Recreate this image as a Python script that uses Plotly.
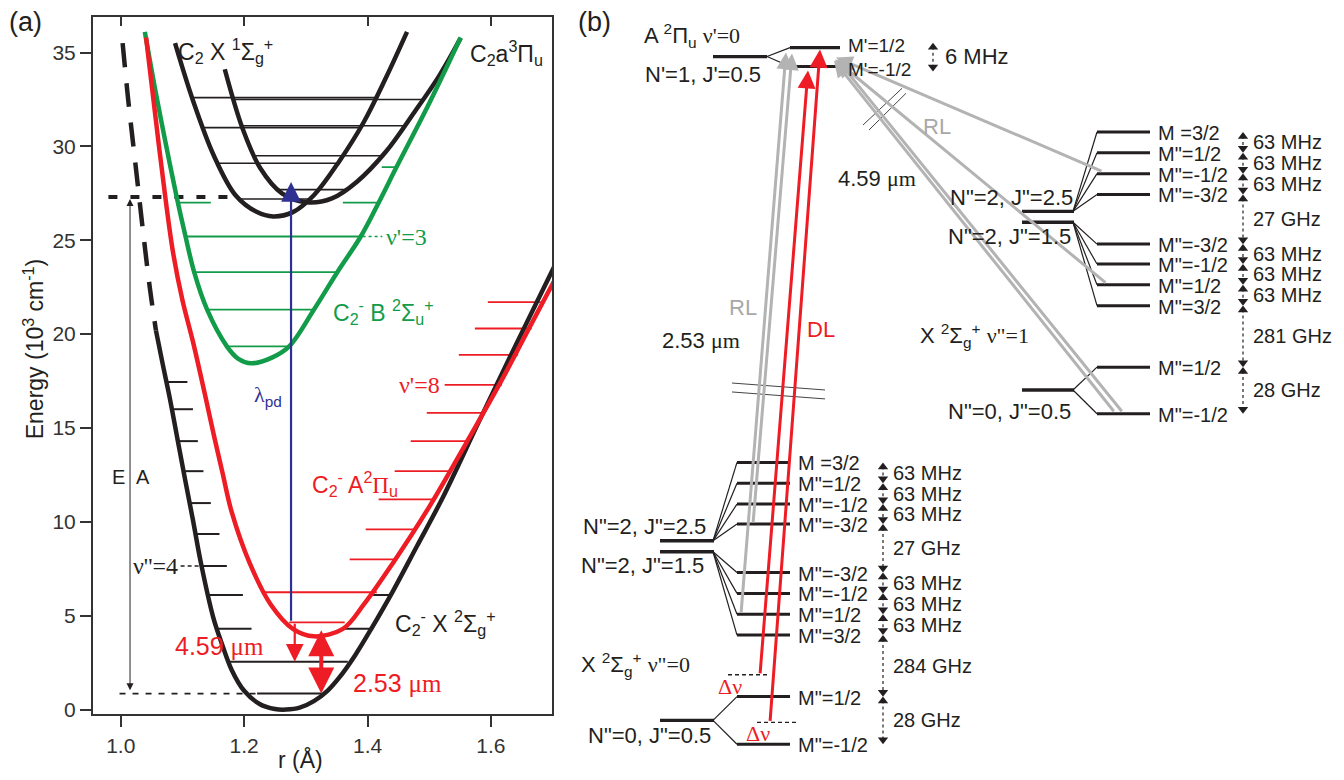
import plotly.graph_objects as go

W, H = 1344, 780
SANS = "Liberation Sans, Arial, Helvetica, sans-serif"
SERIF = "Liberation Serif, Times New Roman, serif"
INK = "#231f20"
AXC = "#333333"
RED = "#ee1c24"
GREEN = "#129c4a"
BLUE = "#2e3192"
GRAY = "#b3b3b3"
LGRAY = "#a8a8a8"
FB = 22   # panel (b) font size
FS = 20   # stacked labels in panel (b)

# ======================= Panel (a) data =======================
x_tick_vals = [1.0, 1.2, 1.4, 1.6]
x_tick_text = ["1.0", "1.2", "1.4", "1.6"]
y_tick_vals = [0, 5, 10, 15, 20, 25, 30, 35]
y_tick_text = ["0", "5", "10", "15", "20", "25", "30", "35"]

# C2- X 2Sigma_g+ (solid part and dashed inner-wall continuation)
anX_r = [1.057, 1.068, 1.080, 1.092, 1.104, 1.117, 1.130, 1.150, 1.165, 1.180, 1.200, 1.225, 1.250,
         1.268, 1.290, 1.313, 1.335, 1.354, 1.380, 1.406, 1.441, 1.480, 1.522, 1.580, 1.640, 1.710]
anX_E = [20.2, 18.4, 16.5, 14.4, 12.3, 10.1, 7.8, 4.9, 3.4, 2.1, 1.0, 0.3, 0.03,
         0.0, 0.1, 0.45, 1.0, 1.7, 2.9, 4.3, 6.3, 8.7, 11.3, 15.3, 19.4, 24.1]
anX_dash_r = [1.003, 1.012, 1.024, 1.036, 1.047, 1.057]
anX_dash_E = [35.5, 32.5, 29.0, 25.5, 22.5, 20.2]

# C2- A 2Pi_u
anA_r = [1.041, 1.062, 1.084, 1.100, 1.117, 1.135, 1.151, 1.165, 1.180, 1.209, 1.243, 1.279, 1.313,
         1.360, 1.394, 1.441, 1.500, 1.560, 1.615, 1.660, 1.710]
anA_E = [35.8, 30.0, 24.5, 21.8, 19.6, 17.0, 14.6, 12.6, 10.5, 7.8, 5.6, 4.3, 3.9,
         4.3, 5.6, 7.8, 10.8, 14.2, 17.4, 20.2, 23.3]

# C2- B 2Sigma_u+
anB_r = [1.039, 1.056, 1.072, 1.090, 1.105, 1.119, 1.140, 1.172, 1.190, 1.212, 1.245, 1.273, 1.313,
         1.351, 1.389, 1.418, 1.447, 1.500, 1.551]
anB_E = [36.1, 33.0, 30.3, 27.4, 25.2, 23.3, 21.3, 19.35, 18.7, 18.45, 18.75, 19.35, 21.3,
         23.3, 25.2, 27.0, 28.9, 32.3, 35.8]

# C2 X 1Sigma_g+ and C2 a 3Pi_u
nX_r = [1.088, 1.1165, 1.151, 1.186, 1.221, 1.247, 1.279, 1.313, 1.354, 1.394, 1.429, 1.464]
nX_E = [35.5, 32.5, 29.5, 27.4, 26.5, 26.27, 26.5, 27.4, 29.2, 31.3, 33.6, 36.1]
na_r = [1.1686, 1.1976, 1.2265, 1.2612, 1.3018, 1.3423, 1.3829, 1.4293, 1.4756, 1.5161, 1.5509]
na_E = [34.11, 30.94, 28.82, 27.50, 27.02, 27.23, 28.12, 29.70, 31.81, 33.76, 35.77]

# vibrational levels (energy, left r, right r)
nX_lev_E = [27.2, 29.1, 31.0, 32.6]
nX_lev_r0 = [1.192, 1.158, 1.134, 1.117]
nX_lev_r1 = [1.309, 1.352, 1.390, 1.412]
na_lev_E = [27.7, 29.5, 31.1, 32.5]
na_lev_r0 = [1.256, 1.217, 1.196, 1.183]
na_lev_r1 = [1.364, 1.424, 1.460, 1.491]
anB_lev_E = [19.35, 21.3, 23.3, 25.2, 27.0, 27.0, 28.9]
anB_lev_r0 = [1.172, 1.140, 1.119, 1.105, 1.093, 1.360, 1.423]
anB_lev_r1 = [1.273, 1.313, 1.351, 1.389, 1.146, 1.418, 1.447]
anX_lev_E = [0.85, 2.55, 4.3, 4.3, 6.1, 6.1, 7.65, 9.35, 11.0, 12.7, 14.3, 16.0, 17.45]
anX_lev_r0 = [1.221, 1.177, 1.155, 1.360, 1.142, 1.409, 1.133, 1.121, 1.110, 1.102, 1.093, 1.083, 1.075]
anX_lev_r1 = [1.325, 1.368, 1.212, 1.409, 1.198, 1.439, 1.172, 1.160, 1.146, 1.134, 1.125, 1.117, 1.108]
anA_lev_E = [4.65, 6.25, 8.0, 9.6, 11.2, 12.7, 14.3, 15.8, 17.3, 18.9, 20.3, 21.7]
anA_lev_r0 = [1.273, 1.229, 1.371, 1.397, 1.418, 1.444, 1.470, 1.496, 1.525, 1.548, 1.574, 1.595]
anA_lev_r1 = [1.363, 1.415, 1.446, 1.478, 1.511, 1.533, 1.563, 1.589, 1.618, 1.644, 1.666, 1.681]

# EA reference lines and arrows
ea_top_E, ea_top_r = 27.3, [0.980, 1.175]
ea_bot_E, ea_bot_r = 0.85, [0.998, 1.221]
ea_arrow_r = 1.015
pd_arrow_r, pd_arrow_E = 1.276, [4.65, 28.1]
ir459_r, ir459_E = 1.282, [4.65, 2.55]
ir253_r, ir253_E = 1.325, [4.3, 0.85]

# ======================= Panel (b) data (diagram units = page pixels) =======================
A_N1 = dict(x=[713, 767], y=57)
A_M_y = [48, 67]
A_M_x = [790, 840]
A_M_txt = ["M'=1/2", "M'=-1/2"]
A_M_txt_y = [46, 70]

# upper (v''=1) manifold
v1_J_y = [213, 224]
v1_J_x = [1022, 1073]
v1_M_y = [133, 154, 175, 196, 246, 266, 287, 308]
v1_N0_y = 393
v1_N0M_y = [370, 417]
v1_M_x = [1097, 1150]
# lower (v''=0) manifold
v0_J_y = [545, 556]
v0_J_x = [660, 713]
v0_M_y = [466, 487, 508, 528, 577, 598, 619, 640]
v0_N0_y = 726
v0_N0M_y = [702, 750]
v0_M_x = [737, 790]

M_txt = ["M =3/2", 'M"=1/2', 'M"=-1/2', 'M"=-3/2', 'M"=-3/2', 'M"=-1/2', 'M"=1/2', 'M"=3/2']
N0_M_txt = ['M"=1/2', 'M"=-1/2']

gap_txt = ["63 MHz"] * 3 + ["27 GHz"] + ["63 MHz"] * 3
v1_gap_extra = ["281 GHz", "28 GHz"]
v0_gap_extra = ["284 GHz", "28 GHz"]
v1_gap_x, v0_gap_x = 1243, 883

# transitions
rlL_x0, rlL_y0 = [741, 753], [619, 528]
rlL_x1, rlL_y1 = [786, 792], [53, 54]
dl_x0, dl_y0 = [760, 770], [680, 728]
dl_x1, dl_y1 = [808, 820], [71, 50]
rlR_x0, rlR_y0 = [1103, 1107, 1115, 1123], [173, 286, 416, 416]
rlR_x1, rlR_y1 = [836, 835, 834, 838], [58, 60, 61, 61]
brk_x = [[863, 902], [869, 906], [732, 825], [732, 825]]
brk_y = [[126, 89], [131, 94], [386, 393], [395, 402]]

# ======================= build =======================
fig = go.Figure()


def segs(E, r0, r1):
    xs, ys = [], []
    for e, a, b in zip(E, r0, r1):
        xs += [a, b, None]
        ys += [e, e, None]
    return xs, ys


def hsegs(ys_, x0, x1):
    return segs(ys_, [x0] * len(ys_), [x1] * len(ys_))


def line(x, y, color, width, xa="x", ya="y", dash=None, shape="linear"):
    fig.add_trace(go.Scatter(x=x, y=y, mode="lines", xaxis=xa, yaxis=ya, hoverinfo="skip",
                             line=dict(color=color, width=width, dash=dash, shape=shape),
                             showlegend=False, connectgaps=False))


# ---- panel (a) traces ----
line(*segs(nX_lev_E, nX_lev_r0, nX_lev_r1), INK, 1.6)
line(*segs(na_lev_E, na_lev_r0, na_lev_r1), INK, 1.6)
line(*segs(anB_lev_E, anB_lev_r0, anB_lev_r1), GREEN, 1.8)
line(*segs(anX_lev_E, anX_lev_r0, anX_lev_r1), INK, 2.0)
line(*segs(anA_lev_E, anA_lev_r0, anA_lev_r1), RED, 1.8)
line(ea_top_r, [ea_top_E] * 2, INK, 4, dash="9px,13px")
line(ea_bot_r, [ea_bot_E] * 2, INK, 1.6, dash="6px,7px")
# leaders for v labels
line([anB_lev_r1[3] + 0.003, 1.424], [anB_lev_E[3]] * 2, GREEN, 1.5, dash="dot")
line([1.097, anX_lev_r0[6]], [anX_lev_E[6]] * 2, INK, 1.5, dash="4px,3px")
# curves
line(nX_r, nX_E, INK, 4.5, shape="spline")
line(na_r, na_E, INK, 4.5, shape="spline")
line(anB_r, anB_E, GREEN, 4.5, shape="spline")
line(anX_r, anX_E, INK, 4.5, shape="spline")
line(anX_dash_r, anX_dash_E, INK, 4.5, dash="24px,16px", shape="spline")
line(anA_r, anA_E, RED, 4.5, shape="spline")
# dummy trace to activate top tick axis
fig.add_trace(go.Scatter(x=x_tick_vals[:1], y=[None], xaxis="x2", yaxis="y", mode="markers",
                         showlegend=False, hoverinfo="skip"))

# ---- panel (b) traces ----
XB, YB = "x3", "y3"
# A state
line(A_N1["x"], [A_N1["y"]] * 2, INK, 3.2, XB, YB)
line(*hsegs(A_M_y, *A_M_x), INK, 3.2, XB, YB)
fx, fy = [], []
for yy in A_M_y:
    fx += [A_N1["x"][1], A_M_x[0], None]
    fy += [A_N1["y"], yy, None]
# fans of ground manifolds
for Jy, Jx, My, Mx in [(v1_J_y, v1_J_x, v1_M_y, v1_M_x), (v0_J_y, v0_J_x, v0_M_y, v0_M_x)]:
    for i, yy in enumerate(My):
        fx += [Jx[1], Mx[0], None]
        fy += [Jy[0] if i < 4 else Jy[1], yy, None]
for Ny, Jx, My, Mx in [(v1_N0_y, v1_J_x, v1_N0M_y, v1_M_x), (v0_N0_y, v0_J_x, v0_N0M_y, v0_M_x)]:
    for yy in My:
        fx += [Jx[1], Mx[0], None]
        fy += [Ny, yy, None]
line(fx, fy, INK, 1.2, XB, YB)
line(*hsegs(v1_J_y + [v1_N0_y], v1_J_x[0], v1_J_x[1] + 1), INK, 3.4, XB, YB)
line(*hsegs(v0_J_y + [v0_N0_y], v0_J_x[0], v0_J_x[1] + 1), INK, 3.4, XB, YB)
line(*hsegs(v1_M_y + v1_N0M_y, *v1_M_x), INK, 3.0, XB, YB)
line(*hsegs(v0_M_y + v0_N0M_y, *v0_M_x), INK, 3.0, XB, YB)

# delta-nu dashed stubs
line([728, dl_x0[0] + 10], [dl_y0[0]] * 2, INK, 1.4, XB, YB, dash="4px,3px")
line([757, dl_x0[1] + 27], [dl_y0[1]] * 2, INK, 1.4, XB, YB, dash="4px,3px")
# break marks
bx, by = [], []
for a, b in zip(brk_x, brk_y):
    bx += a + [None]
    by += b + [None]
line(bx, by, "#444444", 1.0, XB, YB)


# spacing columns (dotted line + arrowheads)
def gap_column(levels, xcol, texts):
    tops, bots = levels[:-1], levels[1:]
    lx, ly = [], []
    for t, b in zip(tops, bots):
        lx += [xcol, xcol, None]
        ly += [t + 4, b - 4, None]
    line(lx, ly, INK, 1.2, XB, YB, dash="dot")
    fig.add_trace(go.Scatter(x=[xcol] * len(tops), y=[t + 4.5 for t in tops], xaxis=XB, yaxis=YB,
                             mode="markers", marker=dict(symbol="triangle-up", size=9, color=INK),
                             showlegend=False, hoverinfo="skip"))
    fig.add_trace(go.Scatter(x=[xcol] * len(bots), y=[b - 4.5 for b in bots], xaxis=XB, yaxis=YB,
                             mode="markers", marker=dict(symbol="triangle-down", size=9, color=INK),
                             showlegend=False, hoverinfo="skip"))
    anns = []
    for t, b, s in zip(tops, bots, texts):
        anns.append(dict(x=xcol + 8, y=(t + b) / 2, text=s, xref=XB, yref=YB, xanchor="left",
                         yanchor="middle", showarrow=False, font=dict(size=FS, color=INK, family=SANS)))
    return anns


annotations = []
annotations += gap_column(v1_M_y + v1_N0M_y, v1_gap_x, gap_txt + v1_gap_extra)
annotations += gap_column(v0_M_y + v0_N0M_y, v0_gap_x, gap_txt + v0_gap_extra)
annotations += gap_column([A_M_y[0] - 5, A_M_y[1] + 5], 933, [""])


def arrow(x1, y1, x0, y0, xr, yr, color, width, size, head=2, both=False):
    d = dict(x=x1, y=y1, ax=x0, ay=y0, xref=xr, yref=yr, axref=xr, ayref=yr, text="",
             showarrow=True, arrowhead=head, arrowsize=size, arrowwidth=width, arrowcolor=color,
             standoff=0, startstandoff=0)
    if both:
        d.update(arrowside="end+start", startarrowhead=head, startarrowsize=size)
    return d


for a in range(2):
    annotations.append(arrow(rlL_x1[a], rlL_y1[a], rlL_x0[a], rlL_y0[a], XB, YB, GRAY, 3, 1.1))
for a in range(4):
    annotations.append(arrow(rlR_x1[a], rlR_y1[a], rlR_x0[a], rlR_y0[a], XB, YB, GRAY, 3, 1.1))
for a in range(2):
    annotations.append(arrow(dl_x1[a], dl_y1[a], dl_x0[a], dl_y0[a], XB, YB, RED, 3, 1.2))

# panel (a) arrows
annotations.append(arrow(pd_arrow_r, pd_arrow_E[1], pd_arrow_r, pd_arrow_E[0], "x", "y", BLUE, 2.2, 1.8))
annotations.append(arrow(ir459_r, ir459_E[1], ir459_r, ir459_E[0], "x", "y", RED, 2.2, 1.6))
annotations.append(arrow(ir253_r, ir253_E[1], ir253_r, ir253_E[0], "x", "y", RED, 4, 1.3, both=True))
annotations.append(arrow(ea_arrow_r, ea_top_E - 0.1, ea_arrow_r, ea_bot_E + 0.1, "x", "y", INK, 1.0, 1.4,
                         head=2, both=True))


def txt(x, y, s, xr="x", yr="y", size=22, color=INK, anchor="center", family=SANS, va="middle"):
    annotations.append(dict(x=x, y=y, text=s, xref=xr, yref=yr, xanchor=anchor, yanchor=va,
                            showarrow=False, font=dict(size=size, color=color, family=family)))


def sp(s):
    return '<span style="font-family:Liberation Serif, Times New Roman, serif">' + s + '</span>'


# panel (a) texts
txt(1.169, 35.1, "C<sub>2</sub> X <sup>1</sup>Σ<sub>g</sub><sup>+</sup>", size=23)
txt(1.626, 35.0, "C<sub>2</sub>a<sup>3</sup>Π<sub>u</sub>", size=23)
txt(1.426, 21.2, "C<sub>2</sub><sup>-</sup> B <sup>2</sup>Σ<sub>u</sub><sup>+</sup>", size=23, color=GREEN)
txt(1.380, 12.0, "C<sub>2</sub><sup>-</sup> A<sup>2</sup>" + sp("Π") + "<sub>u</sub>", size=23, color=RED)
txt(1.527, 4.6, "C<sub>2</sub><sup>-</sup> X <sup>2</sup>Σ<sub>g</sub><sup>+</sup>", size=23)
txt(1.160, 3.4, "4.59 " + sp("μm"), size=25, color=RED)
txt(1.449, 1.4, "2.53 " + sp("μm"), size=25, color=RED)
txt(1.238, 16.7, sp("λ") + "<sub>pd</sub>", size=22, color=BLUE)
txt(1.520, 17.3, "ν'=8", size=24, color=RED, anchor="right", family=SERIF)
txt(1.426, 25.2, "ν'=3", size=24, color=GREEN, anchor="left", family=SERIF)
txt(1.096, 7.65, "ν''=4", size=24, color=INK, anchor="right", family=SERIF)
txt(1.010, 12.4, "E", size=20, anchor="right")
txt(1.021, 12.4, "A", size=20, anchor="left")
txt(25 / W, 1 - 22 / H, "(a)", "paper", "paper", size=27)
txt(300 / W, 1 - 765 / H, "r (Å)", "paper", "paper", size=23)
annotations.append(dict(x=34 / W, y=1 - 352 / H, xref="paper", yref="paper", showarrow=False,
                        xanchor="center", yanchor="middle",
                        text="Energy (10<sup>3</sup> cm<sup>-1</sup>)", textangle=-90,
                        font=dict(size=23, color=INK, family=SANS)))

# panel (b) texts
txt(594, 22, "(b)", XB, YB, size=27)
txt(642, 36, "A <sup>2</sup>Π<sub>u</sub> " + sp("ν'=0"), XB, YB, size=FB, anchor="left")
txt(763, 75, "N'=1, J'=0.5", XB, YB, size=FB, anchor="right")
for yy, s in zip(A_M_txt_y, A_M_txt):
    txt(846, yy, s, XB, YB, size=19, anchor="left")
txt(943, 57, "6 MHz", XB, YB, size=FB, anchor="left")
txt(937, 127, "RL", XB, YB, size=FB, color=LGRAY)
txt(877, 180, "4.59 " + sp("μm"), XB, YB, size=FB)
txt(743, 310, "RL", XB, YB, size=FB, color=LGRAY)
txt(701, 343, "2.53 " + sp("μm"), XB, YB, size=FB)
txt(821, 332, "DL", XB, YB, size=FB, color=RED)
# right manifold texts
txt(1075, 199, 'N"=2, J"=2.5', XB, YB, size=FB, anchor="right")
txt(1073, 238, 'N"=2, J"=1.5', XB, YB, size=FB, anchor="right")
txt(918, 338, "X <sup>2</sup>Σ<sub>g</sub><sup>+</sup> " + sp('ν"=1'), XB, YB, size=FB, anchor="left")
txt(1073, 415, 'N"=0, J"=0.5', XB, YB, size=FB, anchor="right")
for yy, s in zip(v1_M_y + v1_N0M_y, M_txt + N0_M_txt):
    txt(v1_M_x[1] + 6, yy + 1, s, XB, YB, size=FS, anchor="left")
# left manifold texts
txt(708, 531, 'N"=2, J"=2.5', XB, YB, size=FB, anchor="right")
txt(706, 570, 'N"=2, J"=1.5', XB, YB, size=FB, anchor="right")
txt(579, 670, "X <sup>2</sup>Σ<sub>g</sub><sup>+</sup> " + sp('ν"=0'), XB, YB, size=FB, anchor="left")
txt(713, 741, 'N"=0, J"=0.5', XB, YB, size=FB, anchor="right")
for yy, s in zip(v0_M_y + v0_N0M_y, M_txt + N0_M_txt):
    txt(v0_M_x[1] + 6, yy + 1, s, XB, YB, size=FS, anchor="left")
txt(730, 692, "Δν", XB, YB, size=FB, color=RED, family=SERIF)
txt(758, 739, "Δν", XB, YB, size=FB, color=RED, family=SERIF)

axis_common = dict(showgrid=False, zeroline=False, showline=True, linewidth=2, linecolor=AXC,
                   ticks="outside", ticklen=11, tickwidth=2, tickcolor=AXC,
                   tickfont=dict(size=21, color=AXC, family=SANS))
fig.update_layout(
    width=W, height=H, margin=dict(l=0, r=0, t=0, b=0),
    paper_bgcolor="white", plot_bgcolor="white", showlegend=False,
    xaxis=dict(domain=[93 / W, 552 / W], range=[0.955, 1.699], tickvals=x_tick_vals,
               ticktext=x_tick_text, mirror=True, anchor="y", **axis_common),
    xaxis2=dict(overlaying="x", side="top", anchor="y", range=[0.955, 1.699], tickvals=x_tick_vals,
                ticks="inside", ticklen=9, tickwidth=2, tickcolor=AXC, showticklabels=False,
                showgrid=False, zeroline=False, showline=False),
    yaxis=dict(domain=[1 - 720 / H, 1 - 17 / H], range=[-0.26, 36.9], tickvals=y_tick_vals,
               ticktext=y_tick_text, mirror=True, anchor="x", **axis_common),
    xaxis3=dict(domain=[570 / W, 1.0], range=[570, W], visible=False, anchor="y3"),
    yaxis3=dict(domain=[0, 1], range=[H, 0], visible=False, anchor="x3"),
    annotations=annotations,
)

fig.write_html("out.html")
